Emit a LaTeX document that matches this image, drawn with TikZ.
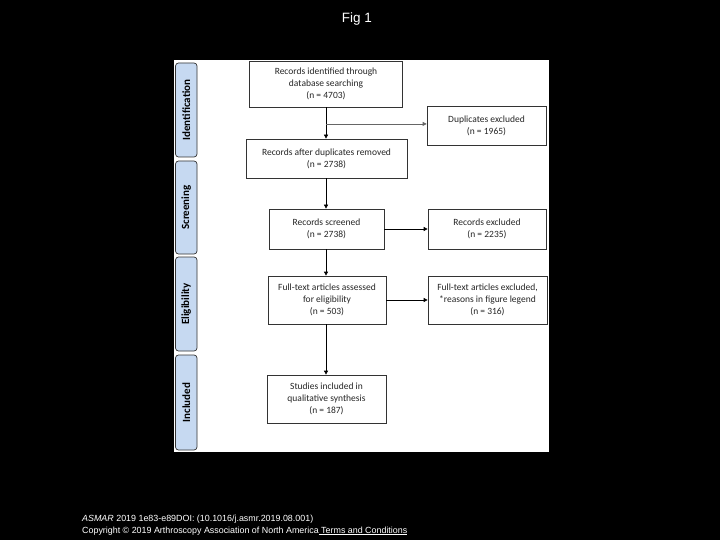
\documentclass[tikz,border=0pt]{standalone}
\usepackage{fontspec}
\setmainfont{Carlito}
\newfontfamily\arialfont{Liberation Sans}
\usetikzlibrary{arrows.meta,calc}
\definecolor{tabblue}{HTML}{C6D9F1}
\definecolor{boxline}{HTML}{333333}
\begin{document}
\begin{tikzpicture}[x=1pt,y=-1pt,
  box/.style={draw=boxline,line width=0.7pt,fill=white,inner sep=0pt,align=center,
    font=\fontsize{9.5}{11.8}\selectfont,text=black!85},
  tab/.style={draw=boxline,line width=0.7pt,fill=tabblue,rounded corners=3pt,inner sep=0pt,
    minimum width=21.5pt,font=\bfseries\fontsize{11}{12}\selectfont},
  arr/.style={line width=0.7pt,-{Triangle[length=4pt,width=4pt]}}]
\useasboundingbox (0,0) rectangle (720,540);
\fill[black] (0,0) rectangle (720,540);
\fill[white] (174,60) rectangle (549,452);
% title
\node[text=white,font=\arialfont\fontsize{13.5}{15}\selectfont] (title) at (357,19) {Fig 1};
% tabs
\node[tab,minimum height=94pt] (t1) at (186.25,110) {\rotatebox{90}{Identification}};
\node[tab,minimum height=93pt] (t2) at (186.25,207.5) {\rotatebox{90}{Screening}};
\node[tab,minimum height=94pt] (t3) at (186.25,304) {\rotatebox{90}{Eligibility}};
\node[tab,minimum height=95pt] (t4) at (186.25,402.5) {\rotatebox{90}{Included}};
% boxes
\node[box,minimum width=153pt,minimum height=46pt] (b1) at (326,84) {Records identified through\\database searching\\(n = 4703)};
\node[box,minimum width=161pt,minimum height=39pt] (b2) at (326.5,158.5) {Records after duplicates removed\\(n = 2738)};
\node[box,minimum width=119pt,minimum height=39pt] (dup) at (486.5,125.5) {Duplicates excluded\\(n = 1965)};
\node[box,minimum width=115pt,minimum height=40pt] (scr) at (326.5,229) {Records screened\\(n = 2738)};
\node[box,minimum width=118pt,minimum height=40pt] (exc) at (487,229) {Records excluded\\(n = 2235)};
\node[box,minimum width=118pt,minimum height=48pt] (ft) at (327,300) {Full-text articles assessed\\for eligibility\\(n = 503)};
\node[box,minimum width=119pt,minimum height=48pt] (ftx) at (487.5,300) {Full-text articles excluded,\\*reasons in figure legend\\(n = 316)};
\node[box,minimum width=119pt,minimum height=48pt] (inc) at (326.5,399) {Studies included in\\qualitative synthesis\\(n = 187)};
% connectors
\coordinate (br) at ($(b1.south)!0.53!(b1.south |- b2.north)$);
\draw[arr] (b1.south) -- (b1.south |- b2.north);
\draw[arr,draw=black!60] (br) -- (br -| dup.west);
\draw[arr] (b1.south |- b2.south) -- (b1.south |- scr.north);
\draw[arr] (scr.east) -- (exc.west);
\draw[arr] (b1.south |- scr.south) -- (b1.south |- ft.north);
\draw[arr] (ft.east) -- (ftx.west);
\draw[arr] (b1.south |- ft.south) -- (b1.south |- inc.north);
% footer
\node[anchor=base west,text=white,font=\arialfont\fontsize{8.9}{10}\selectfont,inner sep=0pt] (f1) at (82,521)
  {\textit{ASMAR} 2019 1e83-e89DOI: (10.1016/j.asmr.2019.08.001)};
\node[anchor=base west,text=white,font=\arialfont\fontsize{8.9}{10}\selectfont,inner sep=0pt] (f2) at (82,533)
  {Copyright \textcopyright{} 2019 Arthroscopy Association of North America\underline{ Terms and Conditions}};
\end{tikzpicture}
\end{document}
